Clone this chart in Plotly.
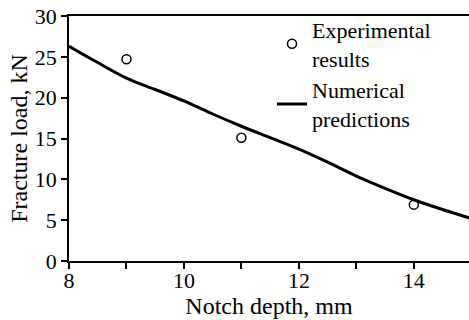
import plotly.graph_objects as go

exp_x = [9, 11, 14]
exp_y = [24.7, 15.1, 6.9]
num_x = [8, 8.5, 9, 9.5, 10, 10.5, 11, 11.5, 12, 12.5, 13, 13.5, 14, 14.5, 15]
num_y = [26.3, 24.3, 22.4, 21.0, 19.6, 18.0, 16.5, 15.1, 13.7, 12.1, 10.4, 8.9, 7.5, 6.3, 5.2]

FAM = "Liberation Serif"
tickfont = dict(family=FAM, size=22, color="black")
tfont = dict(family=FAM, size=24, color="black")
lfont = dict(family=FAM, size=22, color="black")

fig = go.Figure()
fig.add_trace(go.Scatter(x=exp_x, y=exp_y, mode="markers", name="Experimental<br>results",
                         marker=dict(symbol="circle-open", size=9, color="black", line=dict(width=1.5))))
fig.add_trace(go.Scatter(x=num_x, y=num_y, mode="lines", name="Numerical<br>predictions",
                         line=dict(color="black", width=3, shape="spline")))

fig.update_layout(
    width=469, height=320,
    margin=dict(l=69, r=0, t=16, b=59),
    paper_bgcolor="white", plot_bgcolor="white",
    font=dict(family=FAM, size=22, color="black"),
    showlegend=True,
    legend=dict(x=0.5075, y=1.03, xanchor="left", yanchor="top", bgcolor="rgba(0,0,0,0)",
                font=lfont, itemwidth=30, tracegroupgap=0),
)
fig.update_xaxes(range=[8, 14.96], tickmode="array", tickvals=[8, 9, 10, 11, 12, 13, 14, 15],
                 ticktext=["8", "", "10", "", "12", "", "14", ""], tickfont=tickfont,
                 ticks="outside", ticklen=6, tickwidth=1.5, tickcolor="black",
                 ticklabelstandoff=-7,
                 showline=True, linecolor="black", linewidth=1.5, mirror=True,
                 showgrid=False, zeroline=False,
                 title=dict(text="Notch depth, mm", standoff=0, font=tfont))
fig.update_yaxes(range=[0, 30], tickvals=[0, 5, 10, 15, 20, 25, 30], tickfont=tickfont,
                 ticks="outside", ticklen=6, tickwidth=1.5, tickcolor="black",
                 showline=True, linecolor="black", linewidth=1.5,
                 showgrid=False, zeroline=False,
                 title=dict(text="Fracture load, kN", standoff=0, font=tfont))

fig.write_html("out.html", config={"displayModeBar": False},
               post_script="document.body.style.margin='0';document.body.style.padding='0';")
